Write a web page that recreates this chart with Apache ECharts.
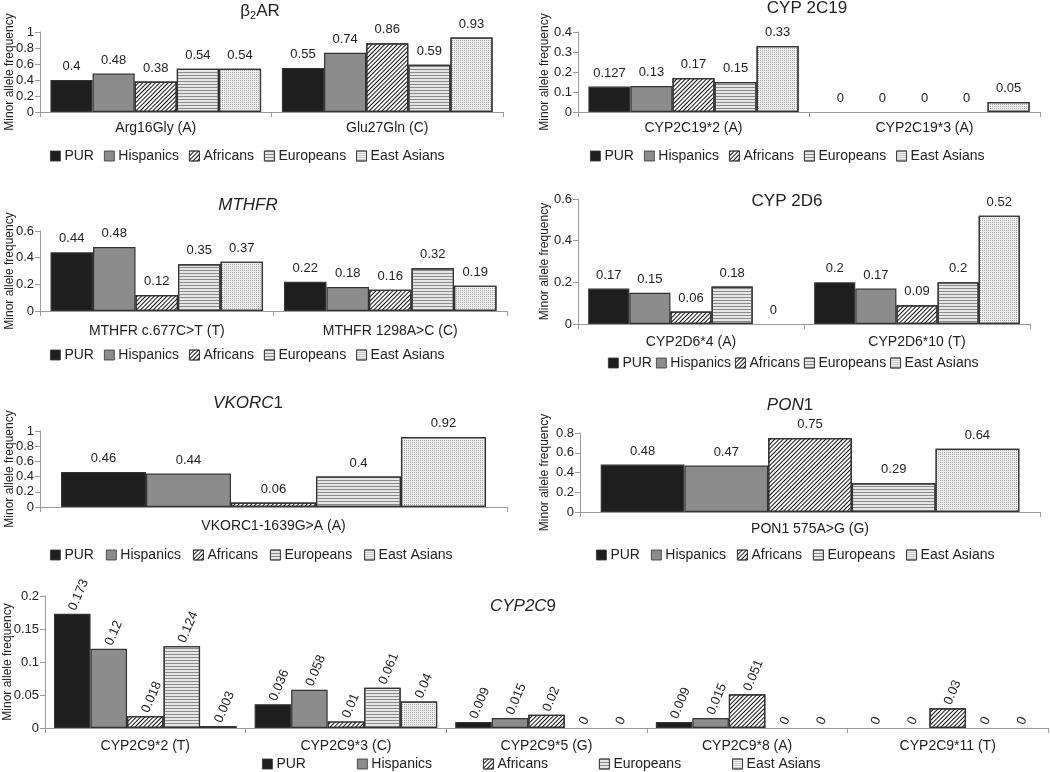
<!DOCTYPE html>
<html><head><meta charset="utf-8">
<script src="https://cdn.jsdelivr.net/npm/echarts@6/dist/echarts.min.js"></script>
<style>html,body{margin:0;padding:0;background:#fff}#c{width:1050px;height:772px}</style>
</head><body><div id="c"></div>
<script>
// ---------------- DATA ----------------
const populations = ['PUR', 'Hispanics', 'Africans', 'Europeans', 'East Asians'];

const adrb2Categories = ['Arg16Gly (A)', 'Glu27Gln (C)'];
const adrb2Arg16Gly = [0.4, 0.48, 0.38, 0.54, 0.54];
const adrb2Glu27Gln = [0.55, 0.74, 0.86, 0.59, 0.93];

const cyp2c19Categories = ['CYP2C19*2 (A)', 'CYP2C19*3 (A)'];
const cyp2c19Star2 = [0.127, 0.13, 0.17, 0.15, 0.33];
const cyp2c19Star3 = [0, 0, 0, 0, 0.05];

const mthfrCategories = ['MTHFR c.677C>T (T)', 'MTHFR 1298A>C (C)'];
const mthfrC677T = [0.44, 0.48, 0.12, 0.35, 0.37];
const mthfrA1298C = [0.22, 0.18, 0.16, 0.32, 0.19];

const cyp2d6Categories = ['CYP2D6*4 (A)', 'CYP2D6*10 (T)'];
const cyp2d6Star4 = [0.17, 0.15, 0.06, 0.18, 0];
const cyp2d6Star10 = [0.2, 0.17, 0.09, 0.2, 0.52];

const vkorc1Categories = ['VKORC1-1639G>A (A)'];
const vkorc1G1639A = [0.46, 0.44, 0.06, 0.4, 0.92];

const pon1Categories = ['PON1 575A>G (G)'];
const pon1A575G = [0.48, 0.47, 0.75, 0.29, 0.64];

const cyp2c9Categories = ['CYP2C9*2 (T)', 'CYP2C9*3 (C)', 'CYP2C9*5 (G)', 'CYP2C9*8 (A)', 'CYP2C9*11 (T)'];
const cyp2c9Star2 = [0.173, 0.12, 0.018, 0.124, 0.003];
const cyp2c9Star3 = [0.036, 0.058, 0.01, 0.061, 0.04];
const cyp2c9Star5 = [0.009, 0.015, 0.02, 0, 0];
const cyp2c9Star8 = [0.009, 0.015, 0.051, 0, 0];
const cyp2c9Star11 = [0, 0, 0.03, 0, 0];

// ---------------- STYLES / LAYOUT ----------------
const FONT = 'Liberation Sans, Arial, sans-serif';
const popStyles = [
  { color: '#1e1e1e' },
  { color: '#8c8c8c' },
  { color: '#ffffff', decal: { symbol: 'rect', symbolSize: 1, dashArrayX: [1, 0], dashArrayY: [1, 2], rotation: -Math.PI / 4, color: '#111' } },
  { color: '#e6e6e6', decal: { symbol: 'rect', symbolSize: 1, dashArrayX: [1, 0], dashArrayY: [1, 2], rotation: 0, color: '#8a8a8a' } },
  { color: '#eeeeee', decal: { symbol: 'rect', symbolSize: 1, dashArrayX: [1, 1], dashArrayY: [1, 1], rotation: 0, color: '#a8a8a8' } }
];

const panels = [
  { title: '{n|β}{s|2}{n|AR}', cats: adrb2Categories, vals: [adrb2Arg16Gly, adrb2Glu27Gln], max: 1, interval: 0.2,
    grid: { left: 40, top: 32, width: 463, height: 80 }, tx: 260, ty: 2, lx: 50, ly: 149, lgap: 10, margin: 9, nameGap: 24 },
  { title: '{n|CYP 2C19}', cats: cyp2c19Categories, vals: [cyp2c19Star2, cyp2c19Star3], max: 0.4, interval: 0.1,
    grid: { left: 578, top: 32, width: 462, height: 80 }, tx: 807, ty: 0, lx: 590, ly: 149, lgap: 10, margin: 9, nameGap: 27 },
  { title: '{i|MTHFR}', cats: mthfrCategories, vals: [mthfrC677T, mthfrA1298C], max: 0.6, interval: 0.2,
    grid: { left: 40, top: 231, width: 467, height: 80 }, tx: 248, ty: 197, lx: 50, ly: 348, lgap: 10, margin: 13, nameGap: 24 },
  { title: '{n|CYP 2D6}', cats: cyp2d6Categories, vals: [cyp2d6Star4, cyp2d6Star10], max: 0.6, interval: 0.2,
    grid: { left: 578, top: 199, width: 452, height: 125 }, tx: 787, ty: 193, lx: 608, ly: 356, lgap: 4, margin: 11, nameGap: 27 },
  { title: '{i|VKORC}{n|1}', cats: vkorc1Categories, vals: [vkorc1G1639A], max: 1, interval: 0.2,
    grid: { left: 40, top: 431, width: 467, height: 76 }, tx: 248, ty: 395, lx: 50, ly: 548, lgap: 12, margin: 12, nameGap: 24 },
  { title: '{i|PON}{n|1}', cats: pon1Categories, vals: [pon1A575G], max: 0.8, interval: 0.2,
    grid: { left: 580, top: 433, width: 460, height: 79 }, tx: 790, ty: 397, lx: 596, ly: 548, lgap: 11, margin: 10, nameGap: 29 },
  { title: '{i|CYP2C}{n|9}', cats: cyp2c9Categories, vals: [cyp2c9Star2, cyp2c9Star3, cyp2c9Star5, cyp2c9Star8, cyp2c9Star11], max: 0.2, interval: 0.05,
    grid: { left: 45, top: 596, width: 1003, height: 132 }, tx: 523, ty: 598, lx: 262, ly: 757, lgap: 51, margin: 11, nameGap: 31, rotated: true }
];

const titleRich = {
  n: { fontFamily: FONT, fontSize: 17, color: '#222' },
  i: { fontFamily: FONT, fontSize: 17, color: '#222', fontStyle: 'italic' },
  s: { fontFamily: FONT, fontSize: 11, color: '#222', verticalAlign: 'bottom', padding: [8, 0, 0, 0] }
};

const option = {
  animation: false,
  backgroundColor: '#fff',
  title: [], legend: [], grid: [], xAxis: [], yAxis: [], series: []
};

panels.forEach((p, k) => {
  option.title.push({
    text: p.title, left: p.tx, top: p.ty, textAlign: 'center', padding: 0,
    textStyle: { rich: titleRich, fontFamily: FONT, fontSize: 17, fontWeight: 'normal' }
  });
  option.legend.push({
    data: populations, left: p.lx, top: p.ly, itemWidth: 10, itemHeight: 10, itemGap: p.lgap, padding: 0,
    icon: 'rect', selectedMode: false,
    itemStyle: { borderColor: '#333', borderWidth: 0.8 },
    textStyle: { fontFamily: FONT, fontSize: 14, color: '#222', padding: [0, 0, 0, -1] }
  });
  option.grid.push(Object.assign({ outerBoundsMode: 'none', containLabel: false }, p.grid));
  option.xAxis.push({
    type: 'category', gridIndex: k, data: p.cats,
    axisLine: { lineStyle: { color: '#9a9a9a', width: 1 } },
    axisTick: { show: true, length: 5, lineStyle: { color: '#9a9a9a' } },
    axisLabel: { fontFamily: FONT, fontSize: 14, color: '#222', margin: p.margin, interval: 0 }
  });
  option.yAxis.push({
    type: 'value', gridIndex: k, min: 0, max: p.max, interval: p.interval,
    name: 'Minor allele frequency', nameLocation: 'middle', nameGap: p.nameGap, nameMoveOverlap: false,
    nameTextStyle: { fontFamily: FONT, fontSize: 12, color: '#222' },
    axisLine: { show: true, lineStyle: { color: '#9a9a9a', width: 1 } },
    axisTick: { show: true, length: 5, lineStyle: { color: '#9a9a9a' } },
    splitLine: { show: false },
    axisLabel: { fontFamily: FONT, fontSize: 13, color: '#222', margin: 6 }
  });
  populations.forEach((pop, j) => {
    const data = p.vals.map(arr => {
      const v = arr[j];
      return v === 0 ? { value: v, itemStyle: { borderWidth: 0 } } : v;
    });
    option.series.push({
      type: 'bar', name: pop, xAxisIndex: k, yAxisIndex: k, data: data,
      barGap: '0%', barCategoryGap: '9%',
      itemStyle: Object.assign({ borderColor: '#333', borderWidth: 1.2 }, popStyles[j]),
      label: p.rotated ? {
        show: true, position: 'top', rotate: 67, align: 'left', verticalAlign: 'middle', distance: 4,
        fontFamily: FONT, fontSize: 13, color: '#222'
      } : {
        show: true, position: 'top', distance: 7, fontFamily: FONT, fontSize: 13, color: '#222'
      },
      emphasis: { disabled: true }
    });
  });
});

const chart = echarts.init(document.getElementById('c'), null, { renderer: 'canvas' });
chart.setOption(option);
</script>
</body></html>
